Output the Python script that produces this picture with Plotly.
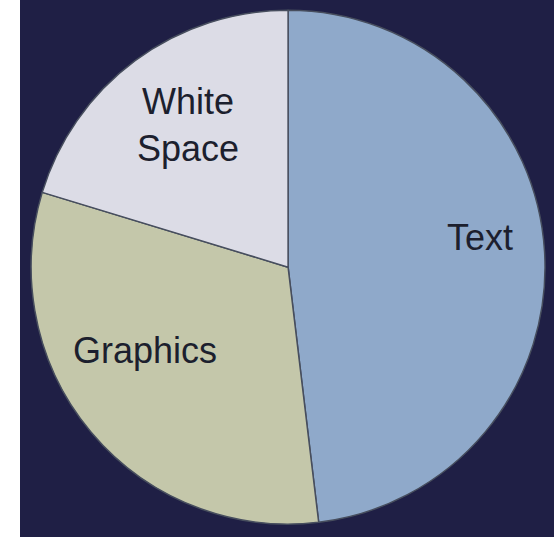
import plotly.graph_objects as go

# Slice data (share of a page)
labels = ["Text", "Graphics", "White Space"]
values = [48.1, 31.6, 20.3]
slice_colors = ["#8fa9ca", "#c4c7aa", "#dcdce6"]

# Label text and placement (paper coords)
label_text = ["Text", "Graphics", "White<br>Space"]
label_x = [0.866, 0.262, 0.339]
label_y = [0.557, 0.348, 0.768]

fig = go.Figure(data=[go.Pie(labels=labels,
                             values=values,
                             sort=False,
                             direction="clockwise",
                             rotation=0,
                             textinfo="none",
                             hoverinfo="label+percent",
                             marker=dict(colors=slice_colors,
                                         line=dict(color="#474e5e", width=1.5)),
                             domain=dict(x=[0.056, 0.984], y=[0.024, 0.981]))])

for txt, x, y in zip(label_text, label_x, label_y):
    fig.add_annotation(text=txt, x=x, y=y, xref="paper", yref="paper",
                       xanchor="center", yanchor="middle",
                       showarrow=False,
                       font=dict(family="Liberation Sans, Arial", size=36,
                                 color="#1c1f2e"))

# White strip on the left edge
fig.add_shape(type="rect", xref="paper", yref="paper",
              x0=0, x1=20 / 554, y0=0, y1=1,
              fillcolor="white", line=dict(width=0), layer="above")

fig.update_layout(width=554, height=537,
                  margin=dict(l=0, r=0, t=0, b=0),
                  paper_bgcolor="#1f1f45",
                  plot_bgcolor="#1f1f45",
                  showlegend=False)

# drop the page's default body margin so the chart sits at the window corner
fig.write_html("out.html", config={"displayModeBar": False},
               post_script="document.body.style.margin='0';")
